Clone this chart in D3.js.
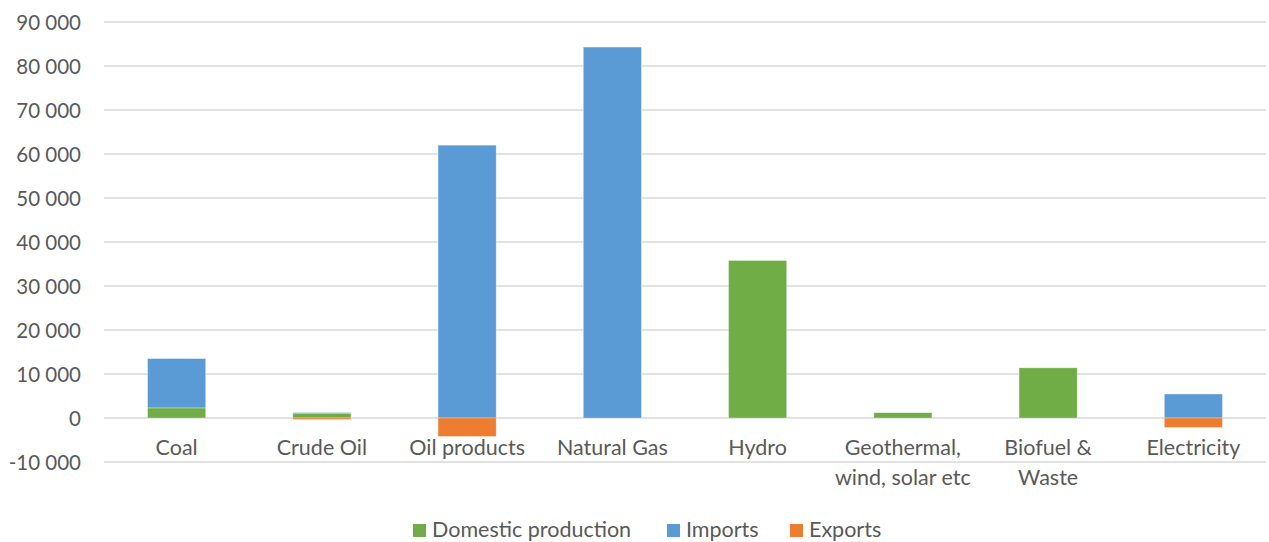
<!DOCTYPE html>
<html>
<head>
<meta charset="utf-8">
<script src="https://cdn.jsdelivr.net/npm/d3@7"></script>
<style>
  html, body { margin: 0; padding: 0; background: #fff; }
  svg { display: block; font-family: Lato, "Open Sans", sans-serif; }
</style>
</head>
<body>
<svg id="chart" width="1269" height="542"></svg>
<script>
// Energy supply by source (TJ): domestic production, imports and exports
const categories = ["Coal", "Crude Oil", "Oil products", "Natural Gas", "Hydro",
                    "Geothermal,\nwind, solar etc", "Biofuel &\nWaste", "Electricity"];
const domestic = [2300, 1100, 0, 0, 35800, 1200, 11400, 0];
const imports  = [11200, 150, 62000, 84300, 0, 0, 0, 5450];
const exports  = [0, -350, -4200, 0, 0, 0, 0, -2150];
const seriesNames = ["Domestic production", "Imports", "Exports"];
const seriesColors = ["#70AD47", "#5B9BD5", "#ED7D31"];
const yTicks = [-10000, 0, 10000, 20000, 30000, 40000, 50000, 60000, 70000, 80000, 90000];

const svg = d3.select("#chart");
const textColor = "#595959";
const margin = { left: 104, right: 3 };
const W = 1269;

const rows = categories.map((c, i) => ({
  cat: c, "Domestic production": domestic[i], "Imports": imports[i], "Exports": exports[i]
}));

const x = d3.scaleBand().domain(categories).range([margin.left, W - margin.right])
  .paddingInner(0.6).paddingOuter(0.3);
const y = d3.scaleLinear().domain([-10000, 90000]).range([462, 22]);

const fmt = v => d3.format(",")(v).replace(/,/g, " ").replace("−", "-");

// gridlines
svg.append("g").selectAll("line").data(yTicks).join("line")
  .attr("x1", margin.left).attr("x2", W - margin.right)
  .attr("y1", d => y(d)).attr("y2", d => y(d))
  .attr("stroke", "#D9D9D9").attr("stroke-width", 1.5);

// y axis labels
const yAxis = d3.axisLeft(y).tickValues(yTicks).tickFormat(fmt).tickSize(0).tickPadding(0);
const ya = svg.append("g").attr("transform", "translate(81,0)").call(yAxis);
ya.select(".domain").remove();
ya.selectAll("text").attr("fill", textColor).style("font-size", "20.5px")
  .style("font-family", "Lato, 'Open Sans', sans-serif").attr("dy", "0.35em");

// stacked bars
const stack = d3.stack().keys(seriesNames).offset(d3.stackOffsetDiverging);
const layers = stack(rows);
svg.append("g").selectAll("g").data(layers).join("g")
  .attr("fill", (d, i) => seriesColors[i])
  .selectAll("rect").data(d => d.map((v, j) => ({ v, cat: categories[j] })))
  .join("rect")
  .attr("x", d => x(d.cat))
  .attr("width", x.bandwidth())
  .attr("y", d => y(Math.max(d.v[0], d.v[1])))
  .attr("height", d => Math.abs(y(d.v[0]) - y(d.v[1])))
  .attr("stroke", "#fff").attr("stroke-opacity", 0.4).attr("stroke-width", 0.75);

// category labels
const xl = svg.append("g");
categories.forEach(c => {
  const lines = c.split("\n");
  const t = xl.append("text").attr("text-anchor", "middle").attr("fill", textColor)
    .style("font-size", "21.5px");
  lines.forEach((ln, k) => {
    t.append("tspan").attr("x", x(c) + x.bandwidth() / 2).attr("y", 455 + k * 30).text(ln);
  });
});

// legend
const legendX = [413, 667, 790];
const lg = svg.append("g");
seriesNames.forEach((n, i) => {
  lg.append("rect").attr("x", legendX[i]).attr("y", 524).attr("width", 13).attr("height", 13)
    .attr("fill", seriesColors[i]);
  lg.append("text").attr("x", legendX[i] + 19).attr("y", 537).attr("fill", textColor)
    .style("font-size", "21.5px").text(n);
});
</script>
</body>
</html>
